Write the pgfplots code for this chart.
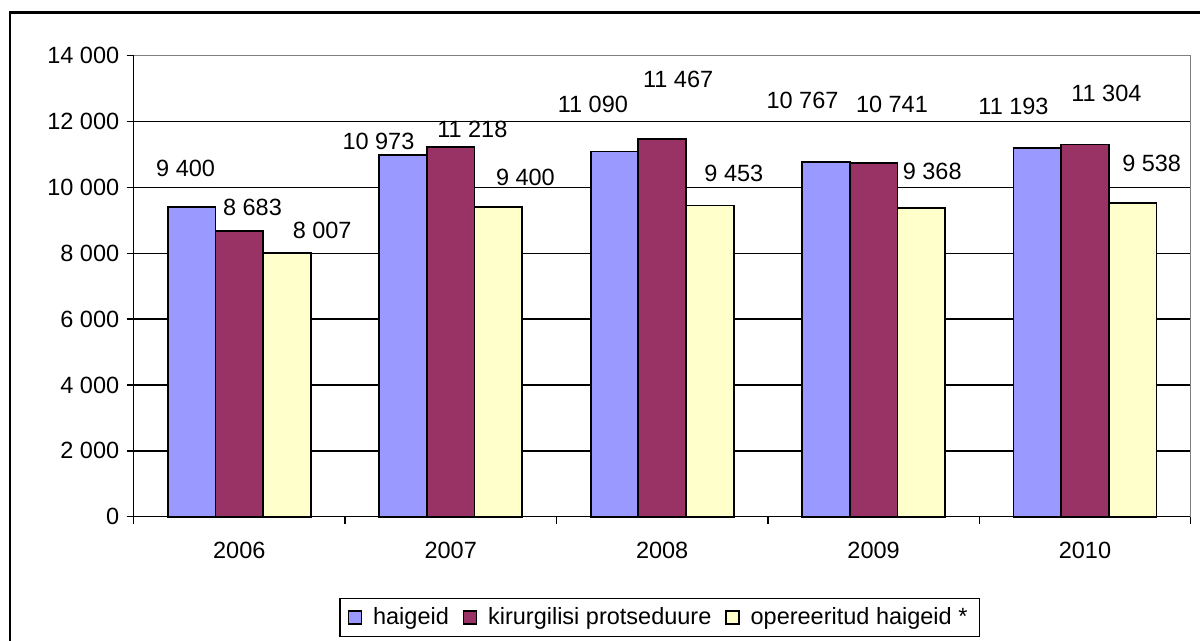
\documentclass[border=0pt]{standalone}
\usepackage{pgfplots}
\pgfplotsset{compat=1.18}
\usepackage{fontspec}
\setmainfont{Liberation Sans}
\definecolor{cblue}{HTML}{9999FF}
\definecolor{cred}{HTML}{993366}
\definecolor{cyel}{HTML}{FFFFCC}
\newcommand{\lf}{\fontsize{11.75}{14}\selectfont}
\pgfplotsset{
  lbl/.style={
    nodes near coords, point meta=explicit symbolic,
    visualization depends on={\thisrow{dx} \as \lx},
    visualization depends on={\thisrow{dy} \as \ly},
    every node near coord/.append style={anchor=center, xshift=\lx pt, yshift=\ly pt,
      font=\lf, inner sep=0pt, fill=none, draw=none, text=black},
  },
}
\begin{document}
\begin{tikzpicture}
\useasboundingbox (0,0) rectangle (600pt,320.5pt);
\clip (0,0) rectangle (600pt,320.5pt);
\draw[line width=1.3pt] (620pt,314.15pt) -- (5pt,314.15pt) -- (5pt,-20pt);
\begin{axis}[
  at={(66.8pt,62.15pt)}, anchor=south west,
  scale only axis, width=528.55pt, height=230.5pt,
  xmin=-0.5, xmax=4.5, ymin=0, ymax=14000,
  scaled y ticks=false,
  ybar, bar width=0.2255,
  axis lines*=left, axis line style={-, line width=0.7pt, black},
  clip=false,
  xtick={-0.5,0.5,1.5,2.5,3.5,4.5},
  x tick label as interval,
  xticklabels={2006,2007,2008,2009,2010},
  ytick={0,2000,4000,6000,8000,10000,12000,14000},
  yticklabels={0,2 000,4 000,6 000,8 000,10 000,12 000,14 000},
  tick align=outside, major tick length=3.5pt,
  tick style={black, line width=0.7pt},
  ymajorgrids, major grid style={black, line width=0.7pt},
  ticklabel style={font=\lf, inner sep=0pt},
  yticklabel style={xshift=-3.5pt},
  xticklabel style={yshift=-9pt},
  legend style={at={(0.4977,-0.2187)}, anchor=center, legend columns=-1,
    draw=black, line width=0.6pt, font=\lf, inner xsep=4pt, inner ysep=2.5pt,
    /tikz/every odd column/.append style={column sep=3.5pt},
    /tikz/every even column/.append style={column sep=5pt}},
  legend image code/.code={\draw[#1,draw=black,line width=0.6pt] (0pt,-3.25pt) rectangle (6.5pt,3.25pt);},
]
\addplot[fill=cblue, draw=black, line width=0.9pt, bar shift=-0.2255, lbl]
  table[x=x, y=y, meta=lab, col sep=comma, row sep=\\] {
x,y,dx,dy,lab\\
0,9400,-3.0,19.5,9 400\\
1,10973,-12.3,7.2,10 973\\
2,11090,-10.8,23.6,11 090\\
3,10767,-11.7,30.8,10 767\\
4,11193,-11.9,21.1,11 193\\
};
\addplot[fill=cred, draw=black, line width=0.9pt, bar shift=0, lbl]
  table[x=x, y=y, meta=lab, col sep=comma, row sep=\\] {
x,y,dx,dy,lab\\
0,8683,6.6,11.6,8 683\\
1,11218,10.8,8.7,11 218\\
2,11467,8.0,29.9,11 467\\
3,10741,9.2,29.4,10 741\\
4,11304,10.7,25.6,11 304\\
};
\addplot[fill=cyel, draw=black, line width=0.9pt, bar shift=0.2255, lbl]
  table[x=x, y=y, meta=lab, col sep=comma, row sep=\\] {
x,y,dx,dy,lab\\
0,8007,17.6,11.2,8 007\\
1,9400,13.5,15.0,9 400\\
2,9453,12.0,16.1,9 453\\
3,9368,5.5,18.3,9 368\\
4,9538,9.5,19.7,9 538\\
};
\legend{haigeid,kirurgilisi protseduure,opereeritud haigeid *}
\draw[gray, line width=0.7pt] (rel axis cs:0,1) -- (rel axis cs:1,1) -- (rel axis cs:1,0);
\end{axis}
\end{tikzpicture}
\end{document}
